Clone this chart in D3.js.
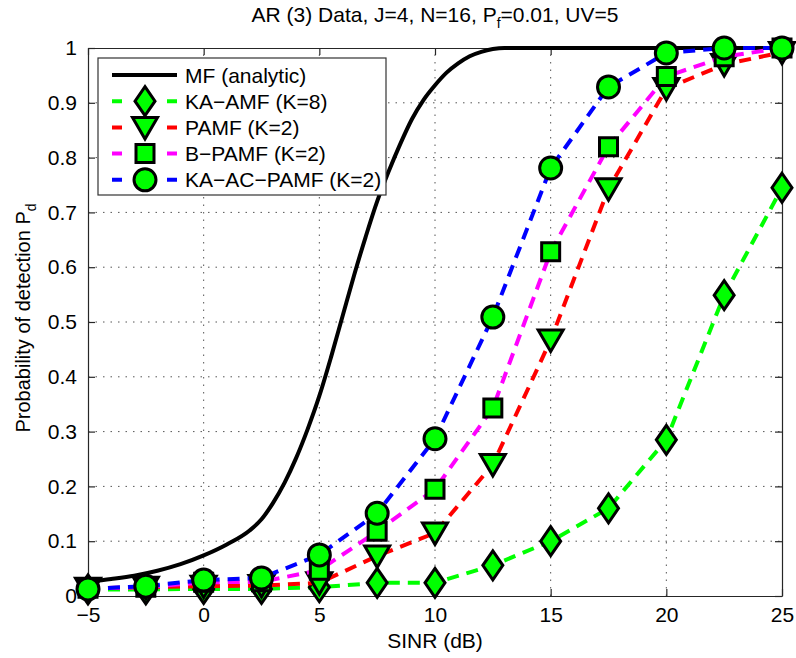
<!DOCTYPE html>
<html>
<head>
<meta charset="utf-8">
<script src="https://cdn.jsdelivr.net/npm/d3@7"></script>
<style>
  body { margin: 0; background: #fff; }
  text { font-family: "Liberation Sans", Arial, sans-serif; }
</style>
</head>
<body>
<div id="chart"></div>
<script>
// values
const sinrDb = [-5, -2.5, 0, 2.5, 5, 7.5, 10, 12.5, 15, 17.5, 20, 22.5, 25];
const kaAmf = [0.012, 0.012, 0.013, 0.013, 0.016, 0.024, 0.024, 0.056, 0.1, 0.16, 0.285, 0.549, 0.745];
const pamf = [0.014, 0.016, 0.018, 0.019, 0.024, 0.073, 0.115, 0.24, 0.467, 0.743, 0.926, 0.97, 0.992];
const bPamf = [0.014, 0.016, 0.025, 0.026, 0.047, 0.118, 0.195, 0.343, 0.628, 0.82, 0.948, 0.984, 1.0];
const kaAcPamf = [0.013, 0.018, 0.029, 0.033, 0.075, 0.151, 0.287, 0.509, 0.781, 0.929, 0.991, 1.0, 1.0];

const mfSinr = [-5, -4, -3, -2, -1, 0, 1, 2, 2.5, 3, 3.5, 4, 4.5, 5, 5.5, 6, 6.5, 7, 7.5, 8, 8.5, 9, 9.5, 10,
    10.5, 11, 11.5, 12, 12.5, 13, 14, 15, 20, 25];
const mfPd = [0.026, 0.031, 0.037, 0.046, 0.058, 0.074, 0.094, 0.12, 0.14, 0.17, 0.207, 0.252, 0.305, 0.365,
    0.435, 0.51, 0.585, 0.655, 0.72, 0.775, 0.825, 0.87, 0.905, 0.932, 0.955, 0.972, 0.985, 0.993, 0.998, 1, 1, 1, 1, 1];

const xTicks = [-5, 0, 5, 10, 15, 20, 25];
const yTicks = [0, 0.1, 0.2, 0.3, 0.4, 0.5, 0.6, 0.7, 0.8, 0.9, 1];
const legendLabels = ["MF (analytic)", "KA\u2212AMF (K=8)", "PAMF (K=2)", "B\u2212PAMF (K=2)", "KA\u2212AC\u2212PAMF (K=2)"];

const W = 796, H = 658;
const margin = {top: 48, right: 14, bottom: 62, left: 88};
const fontSize = 21;
const markFill = "#00ff00";

const svg = d3.select("#chart").append("svg")
    .attr("width", W)
    .attr("height", H);

const x = d3.scaleLinear().domain([-5, 25]).range([margin.left, W - margin.right]);
const y = d3.scaleLinear().domain([0, 1]).range([H - margin.bottom, margin.top]);

// marker shapes
function markerPath(kind) {
    if (kind === "diamond") return "M0,-14.5L10,0L0,14.5L-10,0Z";
    if (kind === "triangle") return "M-12.5,-10L12.5,-10L0,11.5Z";
    if (kind === "square") return "M-9,-9H9V9H-9Z";
    return d3.symbol(d3.symbolCircle, Math.PI * 11 * 11)();
}

const series = [
    {name: legendLabels[1], values: kaAmf, color: "#00ff00", marker: "diamond"},
    {name: legendLabels[2], values: pamf, color: "#ff0000", marker: "triangle"},
    {name: legendLabels[3], values: bPamf, color: "#ff00ff", marker: "square"},
    {name: legendLabels[4], values: kaAcPamf, color: "#0000ff", marker: "circle"}
];

// grid
const grid = svg.append("g")
    .attr("stroke", "#555")
    .attr("stroke-width", 1)
    .attr("stroke-dasharray", "1.5,6");
grid.selectAll(".gx")
    .data(xTicks.slice(1, -1))
    .enter().append("line")
    .attr("x1", d => x(d)).attr("x2", d => x(d))
    .attr("y1", y(0)).attr("y2", y(1));
grid.selectAll(".gy")
    .data(yTicks.slice(1, -1))
    .enter().append("line")
    .attr("x1", x(-5)).attr("x2", x(25))
    .attr("y1", d => y(d)).attr("y2", d => y(d));

// axes, ticks inside like matlab
const fmt = d => String(+d.toFixed(1)).replace("-", "\u2212");
const axisColor = "#262626";

function styleAxis(g) {
    g.select(".domain").attr("stroke", axisColor).attr("stroke-width", 1.2);
    g.selectAll(".tick line").attr("stroke", axisColor).attr("stroke-width", 1.2);
    g.selectAll("text")
        .attr("font-size", fontSize)
        .attr("font-family", "Liberation Sans, Arial, sans-serif")
        .attr("fill", "#000");
}

svg.append("g")
    .attr("transform", "translate(0," + y(0) + ")")
    .call(d3.axisBottom(x).tickValues(xTicks).tickSize(-7).tickSizeOuter(0).tickPadding(11).tickFormat(fmt))
    .call(styleAxis);

svg.append("g")
    .attr("transform", "translate(0," + y(1) + ")")
    .call(d3.axisTop(x).tickValues(xTicks).tickSize(-7).tickSizeOuter(0).tickFormat(""))
    .call(styleAxis);

svg.append("g")
    .attr("transform", "translate(" + x(-5) + ",0)")
    .call(d3.axisLeft(y).tickValues(yTicks).tickSize(-7).tickSizeOuter(0).tickPadding(11).tickFormat(fmt))
    .call(styleAxis);

svg.append("g")
    .attr("transform", "translate(" + x(25) + ",0)")
    .call(d3.axisRight(y).tickValues(yTicks).tickSize(-7).tickSizeOuter(0).tickFormat(""))
    .call(styleAxis);

// MF analytic curve
const mfLine = d3.line()
    .x((d, i) => x(mfSinr[i]))
    .y(d => y(d))
    .curve(d3.curveMonotoneX);

svg.append("path")
    .datum(mfPd)
    .attr("d", mfLine)
    .attr("fill", "none")
    .attr("stroke", "#000")
    .attr("stroke-width", 4);

// simulated detectors, straight segments between points
const simLine = d3.line()
    .x((d, i) => x(sinrDb[i]))
    .y(d => y(d));

series.forEach(s => {
    svg.append("path")
        .datum(s.values)
        .attr("d", simLine)
        .attr("fill", "none")
        .attr("stroke", s.color)
        .attr("stroke-width", 4)
        .attr("stroke-dasharray", "12,8");

    svg.append("g").selectAll("path")
        .data(s.values)
        .enter().append("path")
        .attr("transform", (d, i) => "translate(" + x(sinrDb[i]) + "," + y(d) + ")")
        .attr("d", markerPath(s.marker))
        .attr("fill", markFill)
        .attr("stroke", "#000")
        .attr("stroke-width", 3);
});

// legend
const legend = svg.append("g").attr("transform", "translate(98,58)");
legend.append("rect")
    .attr("width", 288)
    .attr("height", 137)
    .attr("fill", "#fff")
    .attr("stroke", "#333")
    .attr("stroke-width", 1.2);

const rowY = i => 17 + i * 26.2;

legend.append("line")
    .attr("x1", 14).attr("x2", 79)
    .attr("y1", rowY(0)).attr("y2", rowY(0))
    .attr("stroke", "#000")
    .attr("stroke-width", 4);

series.forEach((s, k) => {
    const row = legend.append("g").attr("transform", "translate(0," + rowY(k + 1) + ")");
    row.append("line")
        .attr("x1", 14).attr("x2", 79)
        .attr("stroke", s.color)
        .attr("stroke-width", 4)
        .attr("stroke-dasharray", "10,45");
    row.append("path")
        .attr("transform", "translate(47,0)")
        .attr("d", markerPath(s.marker))
        .attr("fill", markFill)
        .attr("stroke", "#000")
        .attr("stroke-width", 3);
});

legend.selectAll(".lab")
    .data(legendLabels)
    .enter().append("text")
    .attr("x", 87)
    .attr("y", (d, i) => rowY(i))
    .attr("dy", "0.36em")
    .attr("font-size", fontSize)
    .text(d => d);

// title
const title = svg.append("text")
    .attr("x", (x(-5) + x(25)) / 2)
    .attr("y", 22)
    .attr("text-anchor", "middle")
    .attr("font-size", 21);
title.append("tspan").text("AR (3) Data, J=4, N=16, P");
title.append("tspan").attr("dy", 6).attr("font-size", 14).text("f");
title.append("tspan").attr("dy", -6).text("=0.01, UV=5");

// axis labels
svg.append("text")
    .attr("x", (x(-5) + x(25)) / 2)
    .attr("y", 648)
    .attr("text-anchor", "middle")
    .attr("font-size", 21)
    .text("SINR (dB)");

const ylab = svg.append("text")
    .attr("transform", "translate(30," + (y(0.5) - 4) + ") rotate(-90)")
    .attr("text-anchor", "middle")
    .attr("font-size", 20);
ylab.append("tspan").text("Probability of detection P");
ylab.append("tspan").attr("dy", 6).attr("font-size", 14).text("d");
</script>
</body>
</html>
